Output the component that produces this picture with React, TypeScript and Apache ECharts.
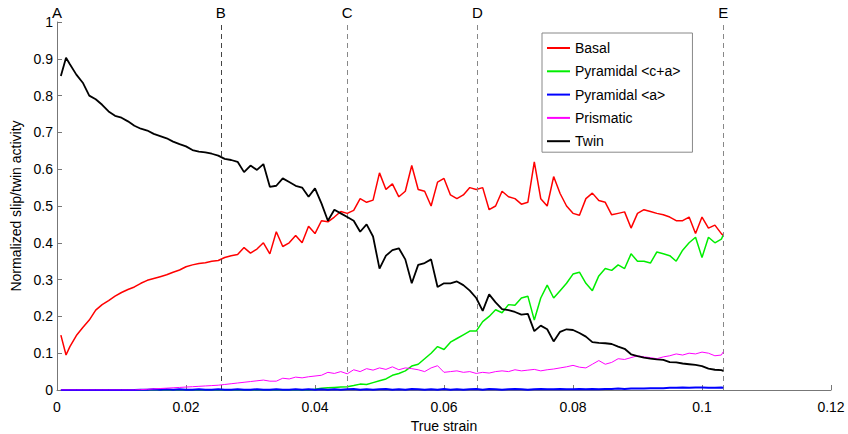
import React, { useEffect, useRef } from "react";
import * as echarts from "echarts";

const strain = [
  0.0006, 0.0014, 0.002, 0.003, 0.004, 0.005, 0.006, 0.007, 0.008, 0.009,
  0.010, 0.011, 0.012, 0.013, 0.014, 0.015, 0.016, 0.017, 0.018, 0.019,
  0.020, 0.021, 0.022, 0.023, 0.024, 0.025, 0.026, 0.027, 0.028, 0.029,
  0.030, 0.031, 0.032, 0.033, 0.034, 0.035, 0.036, 0.037, 0.038, 0.039,
  0.040, 0.041, 0.042, 0.043, 0.044, 0.045, 0.046, 0.047, 0.048, 0.049,
  0.050, 0.051, 0.052, 0.053, 0.054, 0.055, 0.056, 0.057, 0.058, 0.059,
  0.060, 0.061, 0.062, 0.063, 0.064, 0.065, 0.066, 0.067, 0.068, 0.069,
  0.070, 0.071, 0.072, 0.073, 0.074, 0.075, 0.076, 0.077, 0.078, 0.079,
  0.080, 0.081, 0.082, 0.083, 0.084, 0.085, 0.086, 0.087, 0.088, 0.089,
  0.090, 0.091, 0.092, 0.093, 0.094, 0.095, 0.096, 0.097, 0.098, 0.099,
  0.100, 0.101, 0.102, 0.103, 0.1033,
];

const basal = [
  0.149, 0.095, 0.118, 0.148, 0.17, 0.19, 0.217, 0.232, 0.243, 0.255,
  0.265, 0.273, 0.28, 0.29, 0.298, 0.303, 0.308, 0.313, 0.32, 0.326,
  0.335, 0.34, 0.344, 0.346, 0.35, 0.352, 0.36, 0.365, 0.368, 0.387,
  0.372, 0.383, 0.40, 0.37, 0.43, 0.39, 0.40, 0.42, 0.40, 0.445,
  0.425, 0.46, 0.457, 0.47, 0.485, 0.48, 0.488, 0.52, 0.51, 0.516,
  0.59, 0.545, 0.56, 0.525, 0.54, 0.61, 0.545, 0.54, 0.50, 0.565,
  0.575, 0.53, 0.52, 0.53, 0.55, 0.545, 0.55, 0.49, 0.50, 0.54,
  0.525, 0.52, 0.505, 0.51, 0.62, 0.52, 0.50, 0.58, 0.534, 0.50,
  0.48, 0.475, 0.52, 0.535, 0.515, 0.51, 0.476, 0.48, 0.484, 0.44,
  0.48, 0.49, 0.485, 0.48, 0.476, 0.47, 0.46, 0.46, 0.47, 0.425,
  0.47, 0.44, 0.448, 0.425, 0.42,
];

const pyramidalCA = [
  0, 0, 0, 0, 0, 0, 0, 0, 0, 0,
  0, 0, 0, 0, 0, 0, 0, 0, 0, 0,
  0, 0, 0, 0, 0, 0, 0, 0, 0, 0,
  0, 0, 0, 0, 0, 0, 0, 0, 0, 0,
  0.002, 0.005, 0.006, 0.007, 0.008, 0.009, 0.012, 0.016, 0.015, 0.02,
  0.025, 0.03, 0.04, 0.045, 0.052, 0.065, 0.07, 0.085, 0.10, 0.118,
  0.11, 0.13, 0.14, 0.15, 0.16, 0.16, 0.186, 0.20, 0.218, 0.21,
  0.232, 0.23, 0.25, 0.255, 0.19, 0.25, 0.285, 0.25, 0.27, 0.29,
  0.315, 0.32, 0.29, 0.27, 0.31, 0.33, 0.325, 0.34, 0.33, 0.37,
  0.35, 0.35, 0.345, 0.375, 0.37, 0.365, 0.35, 0.38, 0.40, 0.415,
  0.36, 0.415, 0.40, 0.41, 0.421,
];

const pyramidalA = [
  0, 0, 0, 0, 0, 0, 0, 0, 0, 0,
  0, 0, 0, 0.001, 0.001, 0.002, 0.001, 0.002, 0.001, 0.002,
  0.001, 0.001, 0.002, 0.001, 0.001, 0.002, 0.001, 0.001, 0.002, 0.001,
  0.001, 0.002, 0.001, 0.001, 0.002, 0.001, 0.001, 0.002, 0.001, 0.002,
  0.001, 0.002, 0.001, 0.002, 0.001, 0.002, 0.003, 0.001, 0.002, 0.001,
  0.002, 0.003, 0.001, 0.002, 0.001, 0.003, 0.002, 0.001, 0.002, 0.001,
  0.003, 0.001, 0.002, 0.001, 0.002, 0.003, 0.001, 0.003, 0.002, 0.001,
  0.002, 0.003, 0.002, 0.001, 0.002, 0.003, 0.002, 0.002, 0.003, 0.002,
  0.002, 0.003, 0.002, 0.003, 0.002, 0.003, 0.003, 0.004, 0.003, 0.004,
  0.004, 0.004, 0.005, 0.005, 0.005, 0.006, 0.006, 0.007, 0.006, 0.007,
  0.007, 0.006, 0.006, 0.007, 0.006,
];

const prismatic = [
  0, 0, 0, 0, 0, 0, 0, 0, 0, 0,
  0, 0, 0, 0.001, 0.002, 0.003, 0.004, 0.005, 0.006, 0.007,
  0.008, 0.009, 0.01, 0.011, 0.012, 0.013, 0.015, 0.017, 0.019, 0.021,
  0.023, 0.025, 0.027, 0.024, 0.024, 0.032, 0.03, 0.035, 0.033, 0.036,
  0.038, 0.04, 0.048, 0.045, 0.05, 0.044, 0.055, 0.05, 0.058, 0.054,
  0.06, 0.056, 0.063, 0.055, 0.06, 0.058, 0.055, 0.05, 0.06, 0.066,
  0.048, 0.05, 0.052, 0.048, 0.05, 0.045, 0.048, 0.046, 0.05, 0.052,
  0.05, 0.055, 0.052, 0.054, 0.056, 0.052, 0.055, 0.057, 0.06, 0.063,
  0.067, 0.062, 0.06, 0.07, 0.08, 0.07, 0.075, 0.085, 0.083, 0.088,
  0.093, 0.09, 0.088, 0.085, 0.09, 0.093, 0.098, 0.095, 0.1, 0.098,
  0.103, 0.1, 0.093, 0.095, 0.104,
];

const twin = [
  0.853, 0.903, 0.885, 0.857, 0.835, 0.80, 0.79, 0.775, 0.757, 0.745,
  0.74, 0.73, 0.718, 0.71, 0.705, 0.696, 0.69, 0.684, 0.675, 0.668,
  0.662, 0.652, 0.648, 0.646, 0.642, 0.637, 0.628, 0.625, 0.62, 0.592,
  0.61, 0.598, 0.614, 0.552, 0.555, 0.575, 0.565, 0.555, 0.55, 0.525,
  0.548, 0.507, 0.46, 0.49, 0.48, 0.47, 0.46, 0.43, 0.45, 0.417,
  0.33, 0.365, 0.38, 0.385, 0.355, 0.29, 0.34, 0.345, 0.355, 0.28,
  0.29, 0.29, 0.295, 0.285, 0.27, 0.25, 0.215, 0.26, 0.238, 0.22,
  0.217, 0.212, 0.205, 0.207, 0.16, 0.175, 0.165, 0.132, 0.158, 0.165,
  0.163, 0.155, 0.145, 0.13, 0.128, 0.127, 0.125, 0.118, 0.112, 0.097,
  0.092, 0.088, 0.085, 0.083, 0.082, 0.076, 0.075, 0.072, 0.07, 0.068,
  0.065, 0.058, 0.055, 0.054, 0.052,
];

const stageStrain = [0, 0.0254, 0.045, 0.0652, 0.1033];
const stageLabels = ["A", "B", "C", "D", "E"];
const stageColors = ["rgba(0,0,0,0)", "#444444", "#888888", "#888888", "#888888"];

const seriesNames = ["Basal", "Pyramidal <c+a>", "Pyramidal <a>", "Prismatic", "Twin"];
const seriesColors = ["#ff0000", "#00ee00", "#0000ff", "#ff00ff", "#000000"];
const seriesValues = [basal, pyramidalCA, pyramidalA, prismatic, twin];
const seriesWidths = [1.5, 1.5, 2, 1, 1.8];

const xTicks = [0, 0.02, 0.04, 0.06, 0.08, 0.1, 0.12];

const FONT = "'Liberation Sans', Arial, Helvetica, sans-serif";

export default function App() {
  const ref = useRef<HTMLDivElement>(null);
  useEffect(() => {
    if (!ref.current) return;
    const chart = echarts.init(ref.current, undefined, { renderer: "svg" });
    const lineSeries = seriesNames.map((name, si) => ({
      name,
      type: "line",
      showSymbol: false,
      symbol: "none",
      color: seriesColors[si],
      lineStyle: { color: seriesColors[si], width: seriesWidths[si] },
      data: strain.map((x, i) => [x, seriesValues[si][i]]),
      z: 3 + si,
    }));
    const markerSeries = {
      name: "stages",
      type: "line",
      data: [],
      z: 2,
      silent: true,
      markLine: {
        silent: true,
        precision: 6,
        symbol: ["none", "none"],
        animation: false,
        label: {
          show: true,
          position: "end",
          distance: 2,
          color: "#000",
          fontSize: 15,
          fontFamily: FONT,
        },
        data: stageStrain.map((x, i) => ({
          xAxis: x,
          label: { formatter: stageLabels[i] },
          lineStyle: { color: stageColors[i], type: [5, 4], width: 1 },
        })),
      },
    };
    chart.setOption({
      animation: false,
      textStyle: { fontFamily: FONT },
      grid: {
        left: 57,
        right: 17,
        top: 22,
        bottom: 44,
        containLabel: false,
        outerBoundsMode: "none",
      },
      legend: {
        data: seriesNames,
        orient: "vertical",
        left: 542,
        top: 33,
        icon: "rect",
        itemWidth: 23,
        itemHeight: 2,
        itemGap: 9.3,
        padding: [8, 12, 4, 5],
        borderColor: "#888",
        borderWidth: 1,
        backgroundColor: "#fff",
        textStyle: { fontSize: 14, color: "#000", fontFamily: FONT },
      },
      xAxis: {
        type: "value",
        min: 0,
        max: 0.12,
        interval: 0.02,
        name: "True strain",
        nameLocation: "middle",
        nameGap: 28,
        nameTextStyle: { fontSize: 14, color: "#000", fontFamily: FONT },
        axisLine: { show: true, lineStyle: { color: "#777", width: 1 } },
        axisTick: { show: true, inside: true, length: 5, lineStyle: { color: "#777" } },
        axisLabel: {
          fontSize: 14,
          color: "#000",
          margin: 10,
          fontFamily: FONT,
          formatter: (v: number) => {
            const t = xTicks.find((x) => Math.abs(x - v) < 1e-9);
            return t === undefined ? "" : String(t);
          },
        },
        splitLine: { show: false },
      },
      yAxis: {
        type: "value",
        min: 0,
        max: 1,
        interval: 0.1,
        name: "Normalized slip/twin activity",
        nameLocation: "middle",
        nameGap: 32,
        nameTextStyle: { fontSize: 14, color: "#000", fontFamily: FONT },
        axisLine: { show: true, lineStyle: { color: "#777", width: 1 } },
        axisTick: { show: true, inside: true, length: 5, lineStyle: { color: "#777" } },
        axisLabel: { fontSize: 14, color: "#000", margin: 4, fontFamily: FONT },
        splitLine: { show: false },
      },
      series: [markerSeries, ...lineSeries],
    });
    return () => chart.dispose();
  }, []);
  return (
    <div
      ref={ref}
      style={{ position: "fixed", left: 0, top: 0, width: 848, height: 434, background: "#fff" }}
    />
  );
}
